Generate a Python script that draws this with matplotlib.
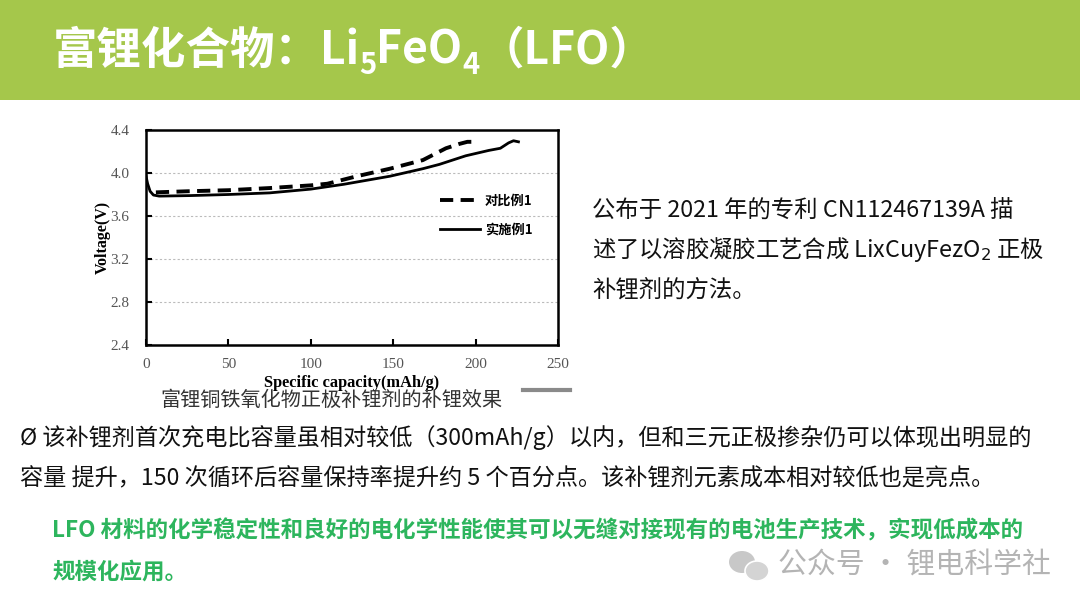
import matplotlib
matplotlib.use("Agg")
import matplotlib.pyplot as plt
from matplotlib.patches import Rectangle, Ellipse
from matplotlib.lines import Line2D

# ---------------- data ----------------
dash_x = [6, 25, 50, 75, 100, 110, 128, 148, 168, 182, 190, 195, 200]
dash_y = [3.82, 3.83, 3.84, 3.86, 3.885, 3.90, 3.97, 4.04, 4.12, 4.23, 4.27, 4.29, 4.29]
solid_x = [0, 1, 2.5, 4.5, 8, 27, 50, 75, 100, 120, 148, 168, 178, 194, 208, 215, 220, 223, 226]
solid_y = [3.97, 3.90, 3.83, 3.795, 3.785, 3.79, 3.80, 3.815, 3.85, 3.895, 3.97, 4.04, 4.08,
           4.16, 4.21, 4.23, 4.28, 4.30, 4.29]
series_names = ["对比例1", "实施例1"]
x_ticks = [0, 50, 100, 150, 200, 250]
y_ticks = [2.4, 2.8, 3.2, 3.6, 4.0, 4.4]
x_label = "Specific capacity(mAh/g)"
y_label = "Voltage(V)"
caption = "富锂铜铁氧化物正极补锂剂的补锂效果"
right_lines = ["公布于 2021 年的专利 CN112467139A 描",
               "述了以溶胶凝胶工艺合成 LixCuyFezO$_2$ 正极",
               "补锂剂的方法。"]
body_lines = ["Ø 该补锂剂首次充电比容量虽相对较低（300mAh/g）以内，但和三元正极掺杂仍可以体现出明显的",
              "容量 提升，150 次循环后容量保持率提升约 5 个百分点。该补锂剂元素成本相对较低也是亮点。"]
green_lines = ["LFO 材料的化学稳定性和良好的电化学性能使其可以无缝对接现有的电池生产技术，实现低成本的",
               "规模化应用。"]
watermark = "公众号 · 锂电科学社"

CJK = ["Noto Sans CJK SC", "DejaVu Sans"]
plt.rcParams['font.family'] = CJK

W, H = 1080, 608
fig = plt.figure(figsize=(W / 100, H / 100), dpi=100)
fig.patch.set_facecolor("white")

def fx(px):
    return px / W

def fy(py):
    return 1 - py / H

# ---------------- banner ----------------
fig.patches.append(Rectangle((0, fy(100)), 1, 100 / H, transform=fig.transFigure,
                             facecolor="#a5c74b", edgecolor="none", zorder=0))

renderer = fig.canvas.get_renderer()
segments = [("富锂化合物：", 0, 32), ("Li", 0, 32), ("5", -10, 21), ("FeO", 0, 32),
            ("4", -10, 21), ("（LFO）", 0, 32)]
x_cur = 53
base_y = 64
for txt, dy, fs in segments:
    t = fig.text(fx(x_cur), fy(base_y - dy), txt, color="white", fontsize=fs,
                 fontweight="bold", ha="left", va="baseline", family=CJK)
    bb = t.get_window_extent(renderer=renderer)
    x_cur += bb.width

# ---------------- chart ----------------
ax = fig.add_axes([fx(146), fy(345), (558 - 146) / W, (345 - 130) / H])
ax.plot(dash_x, dash_y, color="black", lw=2.8, linestyle=(0, (3.4, 1.9)), label=series_names[0])
ax.plot(solid_x, solid_y, color="black", lw=2.0, label=series_names[1])
ax.set_xlim(0, 250)
ax.set_ylim(2.4, 4.4)
ax.set_xticks(x_ticks)
ax.set_yticks(y_ticks)
ax.set_xticklabels([str(v) for v in x_ticks])
ax.set_yticklabels([f"{v:.1f}" for v in y_ticks])
for lab in ax.get_xticklabels() + ax.get_yticklabels():
    lab.set_family("Liberation Serif")
    lab.set_fontsize(11)
    lab.set_color("#555555")
ax.tick_params(direction="in", length=4, width=1.5)
ax.tick_params(axis="y", pad=12)
ax.tick_params(axis="x", pad=9)
for s in ax.spines.values():
    s.set_linewidth(1.8)
for yv in y_ticks[1:-1]:
    ax.axhline(yv, color="#bbbbbb", lw=0.8, linestyle=(0, (2, 2)), zorder=0)
ax.set_xlabel(x_label, family="Liberation Serif", fontweight="bold", fontsize=11.8, labelpad=3)
ax.set_ylabel(y_label, family="Liberation Serif", fontweight="bold", fontsize=11.5, labelpad=0)
leg = ax.legend(loc="upper left", bbox_to_anchor=(0.685, 0.76), frameon=False,
                prop={"family": CJK, "weight": "bold", "size": 9.5},
                handlelength=3.0, labelspacing=1.15, handletextpad=0.4)

# caption and gray bar
fig.text(fx(331), fy(400), caption, fontsize=14.5, color="#333333", ha="center", va="center",
         family=CJK)
fig.add_artist(Line2D([fx(523), fx(570)], [fy(390), fy(390)], color="#8a8a8a", lw=3,
                      transform=fig.transFigure))

# right text
for i, line in enumerate(right_lines):
    fig.text(fx(592), fy(210 + 40 * i), line, fontsize=16.8, color="#111111", ha="left",
             va="center", family=CJK)

# body text
for i, line in enumerate(body_lines):
    fig.text(fx(20), fy(438 + 41 * i), line, fontsize=16.7, color="#111111", ha="left",
             va="center", family=CJK)

# green text
for i, line in enumerate(green_lines):
    fig.text(fx(52), fy(531 + 41 * i), line, fontsize=16.2, color="#2db55d", ha="left",
             va="center", fontweight="bold", family=CJK)

# watermark with simple icon
fig.add_artist(Ellipse((fx(742), fy(562)), 26 / W, 22 / H, transform=fig.transFigure,
                       facecolor="#c8c8c8", edgecolor="none"))
fig.add_artist(Ellipse((fx(757), fy(571)), 24 / W, 20 / H, transform=fig.transFigure,
                       facecolor="#d4d4d4", edgecolor="white", lw=1.2))
fig.text(fx(778), fy(566), watermark, fontsize=20.8, color="#b4b4b4", ha="left", va="center",
         family=CJK)

fig.savefig("out.png", dpi=100)
